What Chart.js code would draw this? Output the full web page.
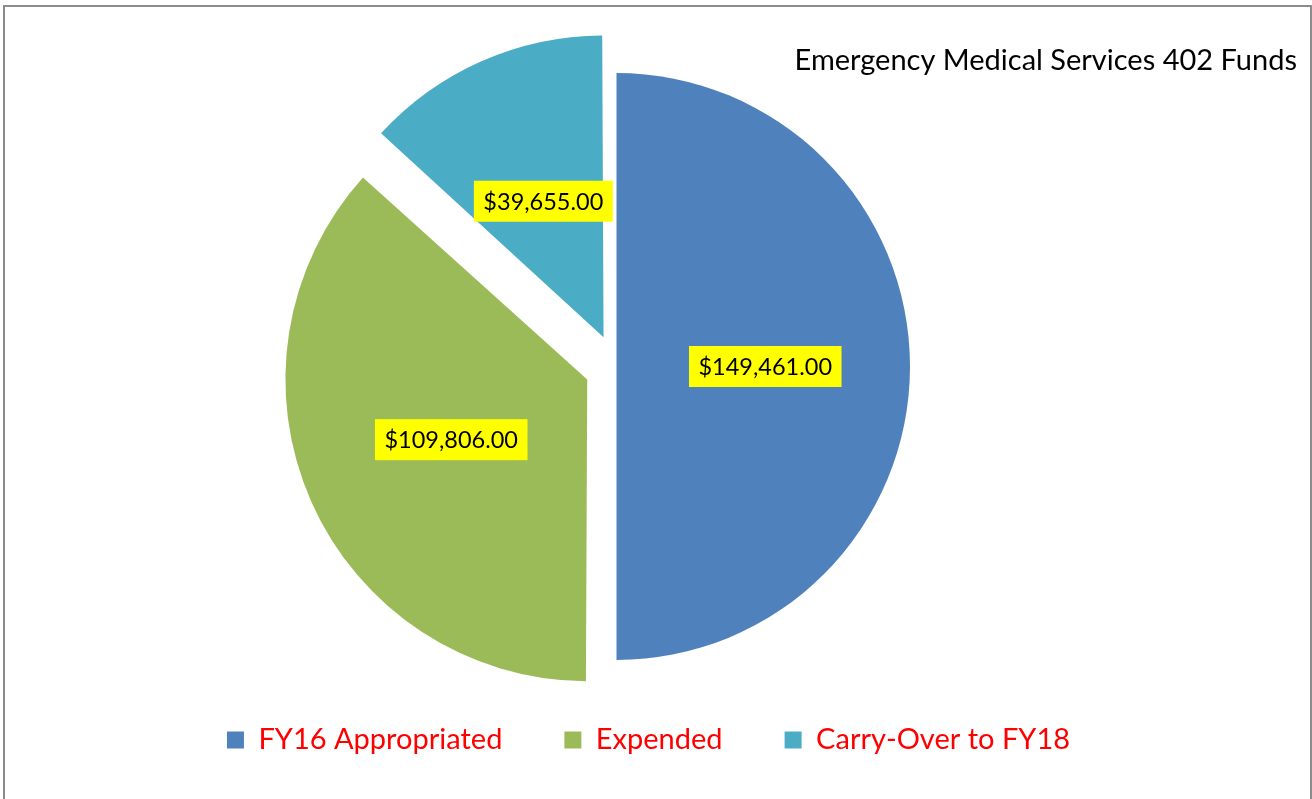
<!DOCTYPE html>
<html lang="en">
<head>
<meta charset="UTF-8">
<title>Emergency Medical Services 402 Funds</title>
<script src="https://cdn.jsdelivr.net/npm/chart.js"></script>
<style>
  html, body { margin: 0; padding: 0; background: #fff; overflow: hidden; }
  #wrap { position: relative; width: 1312px; height: 799px; }
  #frame { position: absolute; left: 3px; top: 5px; width: 1305px; height: 830px;
           border: 2px solid #8c8c8c; border-bottom: none; pointer-events: none; }
  canvas { position: absolute; left: 0; top: 0; }
</style>
</head>
<body>
<div id="wrap">
  <canvas id="fundsChart" width="1312" height="799"></canvas>
  <div id="frame"></div>
</div>

<script>
  const categories = ['FY16 Appropriated', 'Expended', 'Carry-Over to FY18'];
  const amounts = [149461, 109806, 39655];

  function money(v) {
    return '$' + v.toLocaleString('en-US', { minimumFractionDigits: 2, maximumFractionDigits: 2 });
  }

  // yellow value boxes in the middle of each slice
  const valueLabels = {
    id: 'valueLabels',
    afterDatasetsDraw(chart) {
      const ctx = chart.ctx;
      const meta = chart.getDatasetMeta(0);
      ctx.save();
      ctx.font = '23.5px Lato';
      ctx.textAlign = 'center';
      ctx.textBaseline = 'middle';
      meta.data.forEach((arc, i) => {
        const p = arc.getProps(['x', 'y', 'startAngle', 'endAngle', 'outerRadius'], true);
        const mid = (p.startAngle + p.endAngle) / 2;
        const shift = (arc.options.offset || 0) / 4;
        const d = shift + p.outerRadius / 2 + 2;
        const cx = p.x + Math.cos(mid) * d;
        const cy = p.y + Math.sin(mid) * d;
        const text = money(amounts[i]);
        const w = ctx.measureText(text).width + 19;
        const h = 41;
        ctx.fillStyle = '#FFFF00';
        ctx.fillRect(cx - w / 2, cy - h / 2, w, h);
        ctx.fillStyle = '#000';
        ctx.fillText(text, cx, cy + 1);
      });
      ctx.restore();
    }
  };

  // title sits at the right edge, legend a bit right of the pie centre
  const nudge = {
    id: 'nudge',
    afterLayout(chart) {
      chart.titleBlock.left += 64;
      chart.titleBlock.right += 64;
      chart.titleBlock.top += 2;
      chart.titleBlock.bottom += 2;
      chart.legend.left += 32;
      chart.legend.right += 32;
    }
  };

  new Chart(document.getElementById('fundsChart'), {
    type: 'pie',
    data: {
      labels: categories,
      datasets: [{
        data: amounts,
        backgroundColor: ['#4F81BD', '#9BBB59', '#4BACC6'],
        borderWidth: 0,
        offset: [0, 128, 128]
      }]
    },
    options: {
      responsive: false,
      animation: false,
      radius: 293.5,
      layout: { padding: { top: 0, bottom: 35.5, left: 0, right: 79 } },
      plugins: {
        title: {
          display: true,
          text: 'Emergency Medical Services 402 Funds',
          align: 'end',
          color: '#000',
          font: { family: 'Lato', size: 29, weight: 'normal', lineHeight: 0.75 },
          padding: { top: 47.75, bottom: 0 }
        },
        legend: {
          position: 'bottom',
          maxHeight: 100,
          labels: {
            boxWidth: 17,
            boxHeight: 17,
            padding: 62,
            color: '#FF0000',
            font: { family: 'Lato', size: 29 }
          }
        },
        tooltip: { enabled: false }
      }
    },
    plugins: [valueLabels, nudge]
  });
</script>
</body>
</html>
